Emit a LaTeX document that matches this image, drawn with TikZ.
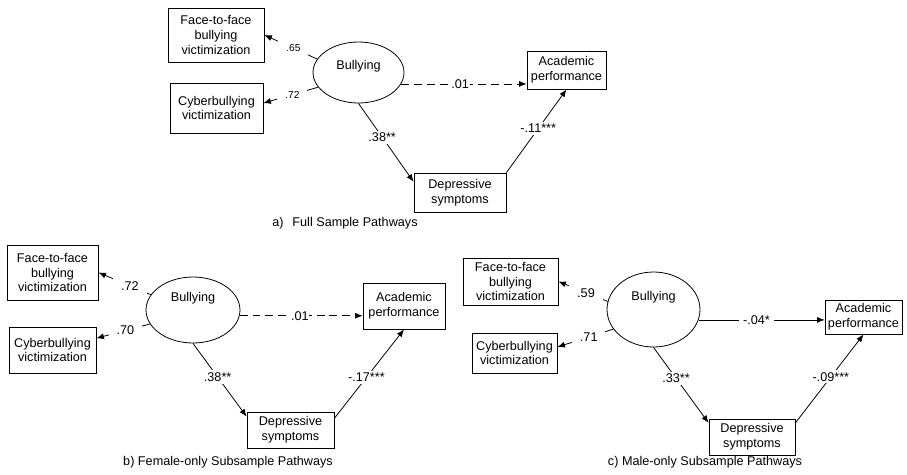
\documentclass[tikz,border=0pt]{standalone}
\usepackage{fontspec}
\setmainfont{Liberation Sans}
\usetikzlibrary{arrows.meta,shapes.geometric}

\begin{document}
\begin{tikzpicture}[
    x=0.02cm, y=-0.02cm,
    font=\fontsize{7.2}{8.3}\selectfont,
    box/.style={draw, line width=0.5pt, align=center, inner sep=1pt},
    latent/.style={draw, ellipse, line width=0.45pt, inner sep=0pt},
    arrow/.style={-{Latex[length=1.5mm, width=1.2mm]}, line width=0.45pt},
    dasharrow/.style={arrow, dash pattern=on 4.5pt off 2.8pt},
    coef/.style={fill=white, inner sep=1.2pt},
    load/.style={fill=white, inner sep=4.5pt},
    tiny/.style={font=\fontsize{5.8}{7}\selectfont}
  ]
  \useasboundingbox (0,0) rectangle (907,474);

  % a) full sample
  \node[box, minimum width=1.92cm, minimum height=1.08cm] (ftfA) at (216,35) {Face-to-face\\bullying\\victimization};
  \node[box, minimum width=1.86cm, minimum height=1.0cm] (cybA) at (216.5,108) {Cyberbullying\\victimization};
  \node[latent, minimum width=1.82cm, minimum height=1.22cm] (bulA) at (358.5,72.5) {};
  \node (bulAtxt) at ([yshift=0.12cm]bulA.center) {Bullying};
  \node[box, minimum width=1.58cm, minimum height=0.76cm] (acaA) at (566.5,70) {Academic\\performance};
  \node[box, minimum width=1.84cm, minimum height=0.78cm] (depA) at (460,192.5) {Depressive\\symptoms};
  \node (capA) at (345,223) {a)\hspace{0.7em}Full Sample Pathways};

  \draw[arrow] (bulA.162) -- node[load, tiny, pos=0.45] {.65} (ftfA.east);
  \draw[arrow] (bulA.200) -- node[load, tiny, pos=0.47] {.72} (cybA.6);
  \draw[dasharrow] (bulA.-15) -- node[coef, inner sep=0.4pt, pos=0.47] {.01} (bulA.-15 -| acaA.west);
  \draw[arrow] (bulA.south) -- node[coef, pos=0.43] {.38**} (depA.167);
  \draw[arrow] (depA.north east) -- node[coef, pos=0.53] {-.11***} (acaA.south);

  % b) female-only subsample
  \node[box, minimum width=1.82cm, minimum height=1.1cm] (ftfB) at (52.5,272.5) {Face-to-face\\bullying\\victimization};
  \node[box, minimum width=1.74cm, minimum height=0.92cm] (cybB) at (52.5,350) {Cyberbullying\\victimization};
  \node[latent, minimum width=1.88cm, minimum height=1.32cm] (bulB) at (193,310) {};
  \node (bulBtxt) at ([yshift=0.24cm]bulB.center) {Bullying};
  \node[box, minimum width=1.64cm, minimum height=0.92cm] (acaB) at (404,306) {Academic\\performance};
  \node[box, minimum width=1.74cm, minimum height=0.72cm] (depB) at (290.5,430) {Depressive\\symptoms};
  \node (capB) at (228,462) {b) Female-only Subsample Pathways};

  \draw[arrow] (bulB.160) -- node[load, pos=0.4] {.72} (ftfB.east);
  \draw[arrow] (bulB.198) -- node[load, pos=0.46] {.70} (cybB.15);
  \draw[dasharrow] (bulB.-7) -- node[coef, inner sep=0.4pt, pos=0.49] {.01} (bulB.-7 -| acaB.west);
  \draw[arrow] (bulB.south) -- node[coef, pos=0.46] {.38**} (depB.163);
  \draw[arrow] (depB.15) -- node[coef, pos=0.46] {-.17***} (acaB.south);

  % c) male-only subsample
  \node[box, minimum width=1.9cm, minimum height=0.94cm] (ftfC) at (510.5,281.5) {Face-to-face\\bullying\\victimization};
  \node[box, minimum width=1.7cm, minimum height=0.8cm] (cybC) at (514.5,353) {Cyberbullying\\victimization};
  \node[latent, minimum width=1.86cm, minimum height=1.5cm] (bulC) at (653.5,309.5) {};
  \node (bulCtxt) at ([yshift=0.25cm]bulC.center) {Bullying};
  \node[box, minimum width=1.54cm, minimum height=0.68cm] (acaC) at (863.5,317) {Academic\\performance};
  \node[box, minimum width=1.72cm, minimum height=0.72cm] (depC) at (752,437) {Depressive\\symptoms};
  \node (capC) at (705,462) {c) Male-only Subsample Pathways};

  \draw[arrow] (bulC.170) -- node[load, pos=0.44] {.59} (ftfC.east);
  \draw[arrow] (bulC.206) -- node[load, pos=0.44] {.71} (cybC.8);
  \draw[arrow] (bulC.-13) -- node[fill=white, inner sep=2.5pt, pos=0.46] {-.04*} (bulC.-13 -| acaC.west);
  \draw[arrow] (bulC.south) -- node[coef, pos=0.41] {.33**} (depC.162);
  \draw[arrow] (depC.18) -- node[coef, pos=0.52] {-.09***} (acaC.south);
\end{tikzpicture}
\end{document}
